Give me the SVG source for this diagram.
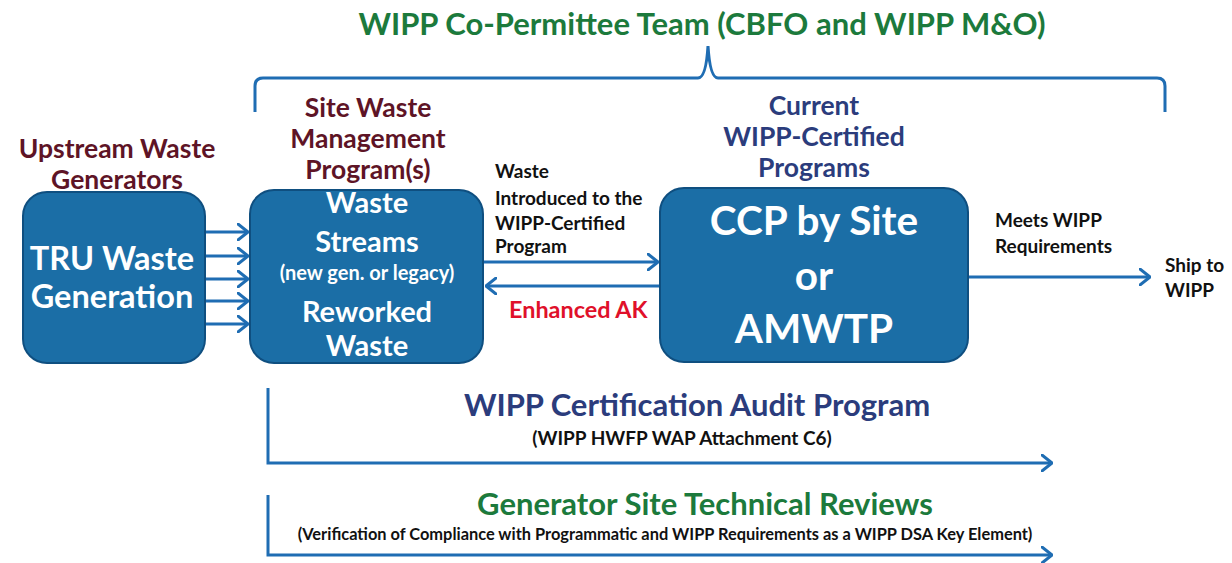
<svg xmlns="http://www.w3.org/2000/svg" width="1232" height="563" viewBox="0 0 1232 563">
<defs>
<marker id="chev" viewBox="0 0 12 18" refX="11" refY="9" markerWidth="12" markerHeight="18" markerUnits="userSpaceOnUse" orient="auto">
<path d="M1,1 L11,9 L1,17" fill="none" stroke="#1f6db3" stroke-width="3" stroke-linecap="round" stroke-linejoin="round"/>
</marker>
</defs>
<style>
text{font-family:Lato,"Open Sans","Liberation Sans",sans-serif;font-weight:bold}
.box{fill:#1b6ea6;stroke:#0f4f80;stroke-width:2}
.wt{fill:#ffffff;text-anchor:middle}
.hd{fill:#5e1426;text-anchor:middle;font-size:26.5px}
.nv{fill:#2b3c7c}
.gr{fill:#1c7a3c}
.lbl{fill:#111111;font-size:19px}
.conn{stroke:#1f6db3;stroke-width:3;fill:none}
</style>
<rect width="1232" height="563" fill="#ffffff"/>

<g id="team">
<text class="gr" x="702" y="35" font-size="31" text-anchor="middle">WIPP Co-Permittee Team (CBFO and WIPP M&amp;O)</text>
<path class="conn" stroke-width="2.5" d="M255,112 L255,86 Q255,78 263,78 L698,78 Q706,78 708,46 Q710,78 718,78 L1157,78 Q1165,78 1165,86 L1165,112"/>
</g>

<g id="hdr-upstream">
<text class="hd" x="117" y="158">Upstream Waste</text>
<text class="hd" x="117" y="189">Generators</text>
</g>
<g id="hdr-site">
<text class="hd" x="368" y="117">Site Waste</text>
<text class="hd" x="368" y="148">Management</text>
<text class="hd" x="368" y="179">Program(s)</text>
</g>
<g id="hdr-current">
<text class="hd nv" x="814" y="115">Current</text>
<text class="hd nv" x="814" y="146">WIPP-Certified</text>
<text class="hd nv" x="814" y="177">Programs</text>
</g>

<g id="tru">
<rect class="box" x="23" y="192" width="182" height="171" rx="24"/>
<text class="wt" x="112" y="270" font-size="32.5">TRU Waste</text>
<text class="wt" x="112" y="308" font-size="32.5">Generation</text>
</g>

<g id="site">
<rect class="box" x="250" y="190" width="233" height="173" rx="24"/>
<text class="wt" x="367" y="213" font-size="29">Waste</text>
<text class="wt" x="367" y="252" font-size="29">Streams</text>
<text class="wt" x="367" y="280" font-size="20">(new gen. or legacy)</text>
<text class="wt" x="367" y="322" font-size="29">Reworked</text>
<text class="wt" x="367" y="356" font-size="29">Waste</text>
</g>

<g id="ccp">
<rect class="box" x="660" y="188" width="308" height="174" rx="24"/>
<text class="wt" x="814" y="235" font-size="40.5">CCP by Site</text>
<text class="wt" x="814" y="290" font-size="40.5">or</text>
<text class="wt" x="814" y="343" font-size="40.5">AMWTP</text>
</g>

<g id="connectors">
<line class="conn" x1="206" y1="232" x2="248" y2="232" marker-end="url(#chev)"/>
<line class="conn" x1="206" y1="256" x2="248" y2="256" marker-end="url(#chev)"/>
<line class="conn" x1="206" y1="279" x2="248" y2="279" marker-end="url(#chev)"/>
<line class="conn" x1="206" y1="301" x2="248" y2="301" marker-end="url(#chev)"/>
<line class="conn" x1="206" y1="324" x2="248" y2="324" marker-end="url(#chev)"/>
<line class="conn" x1="484" y1="262" x2="658" y2="262" marker-end="url(#chev)"/>
<line class="conn" x1="659" y1="286" x2="486" y2="286" marker-end="url(#chev)"/>
<line class="conn" x1="969" y1="277" x2="1150" y2="277" marker-end="url(#chev)"/>
<path class="conn" d="M268,388 L268,463 L1052,463" marker-end="url(#chev)"/>
<path class="conn" d="M268,495 L268,555 L1052,555" marker-end="url(#chev)"/>
</g>

<g id="labels">
<text class="lbl" x="495" y="178">Waste</text>
<text class="lbl" x="495" y="205">Introduced to the</text>
<text class="lbl" x="495" y="230">WIPP-Certified</text>
<text class="lbl" x="495" y="253">Program</text>
<text x="509" y="318" font-size="23.4" fill="#e0102a">Enhanced AK</text>
<text class="lbl" x="995" y="227" font-size="19.7">Meets WIPP</text>
<text class="lbl" x="995" y="253" font-size="19.7">Requirements</text>
<text class="lbl" x="1165" y="272">Ship to</text>
<text class="lbl" x="1165" y="297">WIPP</text>
</g>

<g id="audit">
<text class="nv" x="697" y="416" font-size="31" text-anchor="middle">WIPP Certification Audit Program</text>
<text x="682" y="445" font-size="19" fill="#111" text-anchor="middle">(WIPP HWFP WAP Attachment C6)</text>
</g>
<g id="reviews">
<text class="gr" x="705" y="515" font-size="31" text-anchor="middle">Generator Site Technical Reviews</text>
<text x="665" y="540" font-size="16.4" fill="#111" text-anchor="middle">(Verification of Compliance with Programmatic and WIPP Requirements as a WIPP DSA Key Element)</text>
</g>
</svg>
